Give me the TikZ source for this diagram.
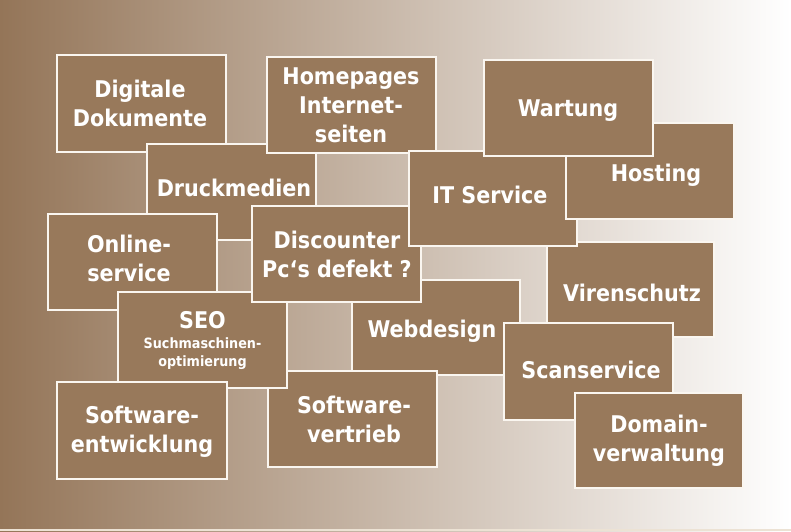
\documentclass[tikz,border=0pt]{standalone}
\usepackage{fontspec}
\newfontfamily\boxfont{DejaVu Sans Condensed}
\definecolor{boxbrown}{RGB}{152,121,91}
\definecolor{bgbrown}{RGB}{148,117,88}
\definecolor{boxline}{RGB}{250,246,240}
\definecolor{stripcol}{RGB}{236,226,212}
\newcommand\svcbox[5]{\node[svc, anchor=north west, minimum width={(#4-#2)*1pt}, minimum height={(#5-#3)*1pt}] (#1) at (#2,#3) {};}
\begin{document}
\begin{tikzpicture}[x=1pt,y=-1pt,
  svc/.style={draw=boxline, line width=1.6pt, fill=boxbrown, inner sep=0pt, outer sep=0pt},
  lbl/.style={text=white, font=\boxfont\bfseries\fontsize{23}{29}\selectfont, align=center, inner sep=0pt},
  small/.style={text=white, font=\boxfont\bfseries\fontsize{14.2}{18}\selectfont, inner sep=0pt}]
\useasboundingbox (0,0) rectangle (791,531);
\shade[left color=bgbrown, right color=white] (0,0) rectangle (791,531);
\fill[stripcol] (0,528.5) rectangle (791,531);
% boxes in stacking order
\svcbox{dig}{57}{55}{226}{152}
\node[lbl] (tdig) at (140,103) {Digitale\\Dokumente};
\svcbox{druck}{147}{144}{316}{240}
\node[lbl] (tdruck) at (234,188) {Druckmedien};
\svcbox{home}{267}{57}{436}{153}
\node[lbl] (thome) at (351,105) {Homepages\\Internet-\\seiten};
\svcbox{web}{352}{280}{520}{375}
\node[lbl] (tweb) at (432,331) {Webdesign};
\svcbox{vert}{268}{371}{437}{467}
\node[lbl] (tvert) at (354,419) {Software-\\vertrieb};
\svcbox{online}{48}{214}{217}{310}
\node[lbl] (tonline) at (129,258) {Online-\\service};
\svcbox{seo}{118}{292}{287}{388}
\node[lbl, anchor=base] (tseo) at (202.5,328) {SEO};
\node[small, anchor=base] (tseo2) at (202.5,348) {Suchmaschinen-};
\node[small, anchor=base] (tseo3) at (202.5,366) {optimierung};
\svcbox{entw}{57}{382}{227}{479}
\node[lbl] (tentw) at (142,432) {Software-\\entwicklung};
\svcbox{disc}{252}{206}{421}{302}
\node[lbl] (tdisc) at (337,254) {Discounter\\Pc‘s defekt ?};
\svcbox{viren}{547}{242}{714}{337}
\node[lbl] (tviren) at (632,293) {Virenschutz};
\svcbox{it}{409}{151}{577}{246}
\node[lbl] (tit) at (490,195) {IT Service};
\svcbox{host}{566}{123}{734}{219}
\node[lbl] (thost) at (656,175) {Hosting};
\svcbox{wart}{484}{60}{653}{156}
\node[lbl] (twart) at (568,111) {Wartung};
\svcbox{scan}{504}{323}{673}{420}
\node[lbl] (tscan) at (591,370) {Scanservice};
\svcbox{dom}{575}{393}{743}{488}
\node[lbl] (tdom) at (659,441) {Domain-\\verwaltung};
\end{tikzpicture}
\end{document}
